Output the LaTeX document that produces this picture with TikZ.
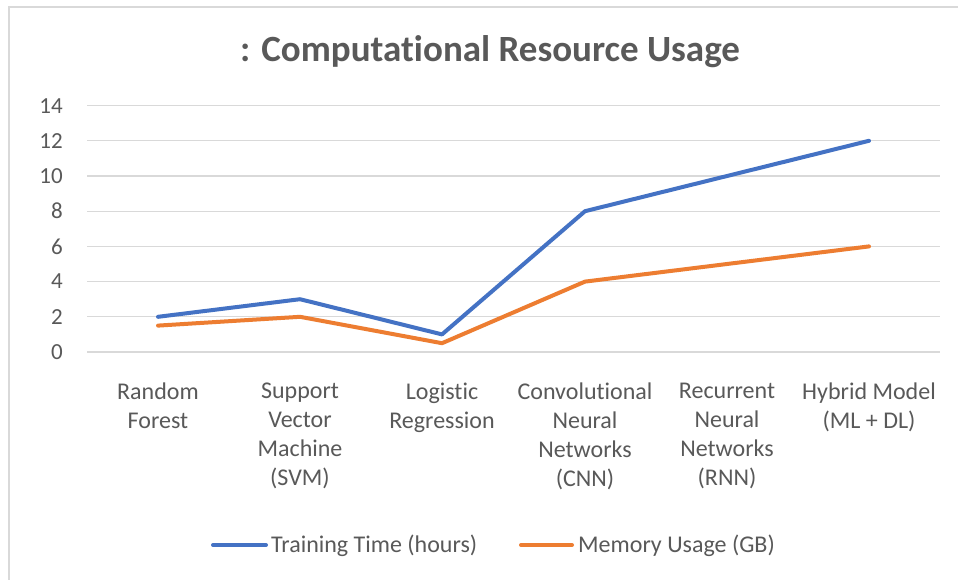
\documentclass[tikz,border=0pt]{standalone}
\usepackage{fontspec}
\setmainfont{Carlito}[Ligatures=NoCommon]
\definecolor{txt}{HTML}{595959}
\definecolor{grid}{HTML}{D9D9D9}
\definecolor{serA}{HTML}{4472C4}
\definecolor{serB}{HTML}{ED7D31}
\begin{document}
\begin{tikzpicture}[x=1pt,y=-1pt,
  gridline/.style={draw=grid,line width=1.3pt},
  series/.style={line width=4pt,line cap=round,line join=round},
  ticklab/.style={text=txt,font=\fontsize{23}{23}\selectfont,anchor=east,inner sep=0pt},
  catlab/.style={text=txt,font=\fontsize{24}{29}\selectfont,align=center,anchor=north,inner sep=0pt},
  leglab/.style={text=txt,font=\fontsize{24}{24}\selectfont,anchor=west,inner sep=0pt}]
\useasboundingbox (0,0) rectangle (958,579);
\fill[white] (0,0) rectangle (958,579);
\draw[draw=grid,line width=2pt] (9,7) rectangle (975,600);
\node[font=\fontsize{37}{37}\selectfont\bfseries,text=txt,anchor=base,inner sep=0pt] (title) at (490,61) {: Computational Resource Usage};
% grid and tick labels
\foreach \v [count=\i from 0] in {0,2,4,6,8,10,12,14}{
  \draw[gridline] (87,{352-35.2*\i}) -- (940,{352-35.2*\i});
  \node[ticklab] (t\i) at (63,{352-35.2*\i}) {\v};
}
% categories
\node[catlab] (c1) at (158,383) {Random\\Forest};
\node[catlab] (c2) at (300,383) {Support\\Vector\\Machine\\(SVM)};
\node[catlab] (c3) at (442,383) {Logistic\\Regression};
\node[catlab] (c4) at (585,383) {Convolutional\\Neural\\Networks\\(CNN)};
\node[catlab] (c5) at (727,383) {Recurrent\\Neural\\Networks\\(RNN)};
\node[catlab] (c6) at (869,383) {Hybrid Model\\(ML + DL)};
% data points
\foreach \x [count=\i] / \a / \b in {158/2/1.5, 300/3/2, 442/1/0.5, 585/8/4, 727/10/5, 869/12/6}{
  \coordinate (a\i) at (\x,{352-17.6*\a});
  \coordinate (b\i) at (\x,{352-17.6*\b});
}
\draw[series,serB] (b1) -- (b2) -- (b3) -- (b4) -- (b5) -- (b6);
\draw[series,serA] (a1) -- (a2) -- (a3) -- (a4) -- (a5) -- (a6);
% legend
\coordinate (la1) at (213,545); \coordinate (la2) at (266,545);
\coordinate (lb1) at (521,545); \coordinate (lb2) at (572,545);
\draw[series,serA] (la1) -- (la2);
\draw[series,serB] (lb1) -- (lb2);
\node[leglab] (l1) at (271,546) {Training Time (hours)};
\node[leglab] (l2) at (578,546) {Memory Usage (GB)};
\end{tikzpicture}
\end{document}
